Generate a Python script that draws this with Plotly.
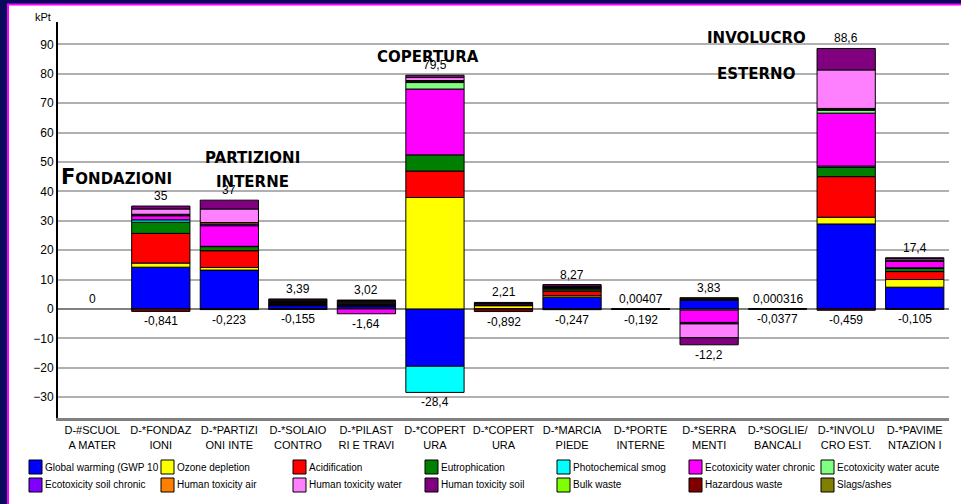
import plotly.graph_objects as go

# categories (two-line tick labels as printed under each bar)
categories = [
    "D-#SCUOL<br>A MATER", "D-*FONDAZ<br>IONI", "D-*PARTIZI<br>ONI INTE",
    "D-*SOLAIO<br>CONTRO", "D-*PILAST<br>RI E TRAVI", "D-*COPERT<br>URA",
    "D-*COPERT<br>URA", "D-*MARCIA<br>PIEDE", "D-*PORTE<br>INTERNE",
    "D-*SERRA<br>MENTI", "D-*SOGLIE/<br>BANCALI", "D-*INVOLU<br>CRO EST.",
    "D-*PAVIME<br>NTAZION I",
]

# impact categories, kPt per building element
global_warming = [0, 14.2, 13.2, 1.1, 0.8, -19.5, 0.1, 4.0, 0.00407, 2.9, 0.000316, 28.9, 7.4]
ozone_depletion = [0, 1.4, 0.9, 0.1, 0.2, 37.9, 1.0, 0.5, 0, 0.2, 0, 2.3, 2.6]
acidification = [0, 10.1, 5.7, 0.3, 0.3, 9.0, 0.1, 1.6, 0, 0.2, 0, 13.8, 2.7]
eutrophication = [0, 3.8, 1.4, 0.3, 0.3, 5.5, 0.1, 0.7, 0, 0.2, 0, 3.1, 1.1]
photochemical_smog = [0, 0.8, 0.1, 0.1, 0.1, -8.9, 0, 0, 0, -0.4, 0, 0.5, 0.2]
ecotox_water_chronic = [0, 1.4, 7.0, 0.3, -1.64, 22.4, 0.4, 0.3, 0, -4.2, 0, 18.0, 2.2]
ecotox_water_acute = [0, 0, 0, 0, 0.3, 2.2, 0, 0, 0, 0, 0, 1.0, 0]
ecotox_soil_chronic = [0, 0.3, 0.6, 0.3, 0.3, 0.4, 0, 0.2, 0, -0.5, 0, 0.3, 0.2]
human_tox_air = [0, 0.2, 0.5, 0.3, 0.3, 0.3, 0, 0.2, 0, 0.33, 0, 0.3, 0.2]
human_tox_water = [0, 1.8, 4.6, 0.3, 0.2, 1.0, 0.2, 0.2, 0, -4.7, 0, 13.1, 0.5]
human_tox_soil = [0, 1.0, 3.0, 0.29, 0.22, 0.8, 0.31, 0.57, 0, -2.4, 0, 7.3, 0.3]
bulk_waste = [0] * 13
hazardous_waste = [0, -0.841, -0.223, -0.155, 0, 0, -0.892, -0.247, -0.192, 0, -0.0377, -0.459, -0.105]
slags_ashes = [0] * 13

# printed totals
pos_labels = ["0", "35", "37", "3,39", "3,02", "79,5", "2,21", "8,27", "0,00407",
              "3,83", "0,000316", "88,6", "17,4"]
neg_labels = ["", "-0,841", "-0,223", "-0,155", "-1,64", "-28,4", "-0,892", "-0,247",
              "-0,192", "-12,2", "-0,0377", "-0,459", "-0,105"]

series = [
    ("Global warming (GWP 10", global_warming, "#0000FF"),
    ("Ozone depletion", ozone_depletion, "#FFFF00"),
    ("Acidification", acidification, "#FF0000"),
    ("Eutrophication", eutrophication, "#008000"),
    ("Photochemical smog", photochemical_smog, "#00FFFF"),
    ("Ecotoxicity water chronic", ecotox_water_chronic, "#FF00FF"),
    ("Ecotoxicity water acute", ecotox_water_acute, "#80FF80"),
    ("Ecotoxicity soil chronic", ecotox_soil_chronic, "#8000FF"),
    ("Human toxicity air", human_tox_air, "#FF8000"),
    ("Human toxicity water", human_tox_water, "#FF80FF"),
    ("Human toxicity soil", human_tox_soil, "#800080"),
    ("Bulk waste", bulk_waste, "#80FF00"),
    ("Hazardous waste", hazardous_waste, "#800000"),
    ("Slags/ashes", slags_ashes, "#808000"),
]

W, H = 961, 504
ML, MR, MT, MB = 58, 12, 22, 86
PW, PH = W - ML - MR, H - MT - MB
FONT = "Liberation Sans, Arial, sans-serif"
TITLE_FONT = "DejaVu Sans, sans-serif"


def px_x(px):
    return (px - ML) / PW


def px_y(py):
    return (H - MB - py) / PH


xs = list(range(len(categories)))
fig = go.Figure()
for name, vals, color in series:
    fig.add_trace(go.Bar(
        x=xs, y=[v if v != 0 else None for v in vals], name=name,
        marker=dict(color=color, line=dict(color="black", width=1)),
        showlegend=False, hoverinfo="skip",
    ))

# totals above / below each stack
annotations = []
for i in xs:
    pos = sum(s[1][i] for s in series if s[1][i] > 0)
    neg = sum(s[1][i] for s in series if s[1][i] < 0)
    annotations.append(dict(x=i, y=pos, text=pos_labels[i], showarrow=False,
                            yanchor="bottom", yshift=1, font=dict(size=12)))
    if neg_labels[i]:
        annotations.append(dict(x=i, y=neg, text=neg_labels[i], showarrow=False,
                                yanchor="top", yshift=-1, font=dict(size=12)))

# section titles written over the chart
titles = [
    ("<b><span style='font-size:21px'>F</span>ONDAZIONI</b>", 116, 177),
    ("<b>PARTIZIONI</b>", 252, 158),
    ("<b>INTERNE</b>", 252, 182),
    ("<b>COPERTURA</b>", 428, 57),
    ("<b>INVOLUCRO</b>", 756, 38),
    ("<b>ESTERNO</b>", 756, 74),
]
for txt, x, y in titles:
    annotations.append(dict(x=px_x(x), y=px_y(y), xref="paper", yref="paper", text=txt,
                            showarrow=False, xanchor="center", yanchor="middle",
                            font=dict(family=TITLE_FONT, size=15, color="black")))

annotations.append(dict(x=px_x(53), y=px_y(17), xref="paper", yref="paper", text="kPt",
                        showarrow=False, xanchor="right", yanchor="middle",
                        font=dict(size=11)))

# hand-placed legend, 7 columns x 2 rows
shapes = [dict(type="rect", xref="paper", yref="paper", x0=px_x(8), x1=px_x(975),
               y0=px_y(4.5), y1=px_y(515), fillcolor="white",
               line=dict(color="#FF00FF", width=2), layer="below")]
for k, (name, vals, color) in enumerate(series):
    row, col = divmod(k, 7)
    sx = 29 + col * 132
    sy = 467 + row * 18
    shapes.append(dict(type="rect", xref="paper", yref="paper",
                       x0=px_x(sx), x1=px_x(sx + 13), y0=px_y(sy - 7), y1=px_y(sy + 7),
                       fillcolor=color, line=dict(color="black", width=1)))
    annotations.append(dict(x=px_x(sx + 14), y=px_y(sy), xref="paper", yref="paper",
                            text=name, showarrow=False, xanchor="left", yanchor="middle",
                            font=dict(size=10)))

fig.update_layout(
    template="none",
    width=W, height=H,
    margin=dict(l=ML, r=MR, t=MT, b=MB),
    barmode="relative", bargap=0.15,
    paper_bgcolor="#0A0A5C", plot_bgcolor="rgba(0,0,0,0)",
    font=dict(family=FONT, size=12, color="black"),
    annotations=annotations, shapes=shapes,
    showlegend=False,
)
fig.update_xaxes(
    tickvals=xs, ticktext=categories, range=[-0.5, 12.5], tickangle=0,
    showgrid=False, zeroline=False, showline=True, linecolor="#808080", linewidth=3,
    ticks="", automargin=False, tickfont=dict(size=11),
)
fig.update_yaxes(
    range=[-37.1, 97.6], tickvals=list(range(-30, 100, 10)),
    showgrid=True, gridcolor="#B0B0B0", gridwidth=1.5,
    zeroline=True, zerolinecolor="#808080", zerolinewidth=2,
    showline=True, linecolor="black", linewidth=2, ticks="", automargin=False,
    tickfont=dict(size=12),
)

# drop the page's default 8px body margin so the figure sits at the window corner
fig.write_html("out.html", config={"displayModeBar": False},
               post_script="document.body.style.margin='0';")
